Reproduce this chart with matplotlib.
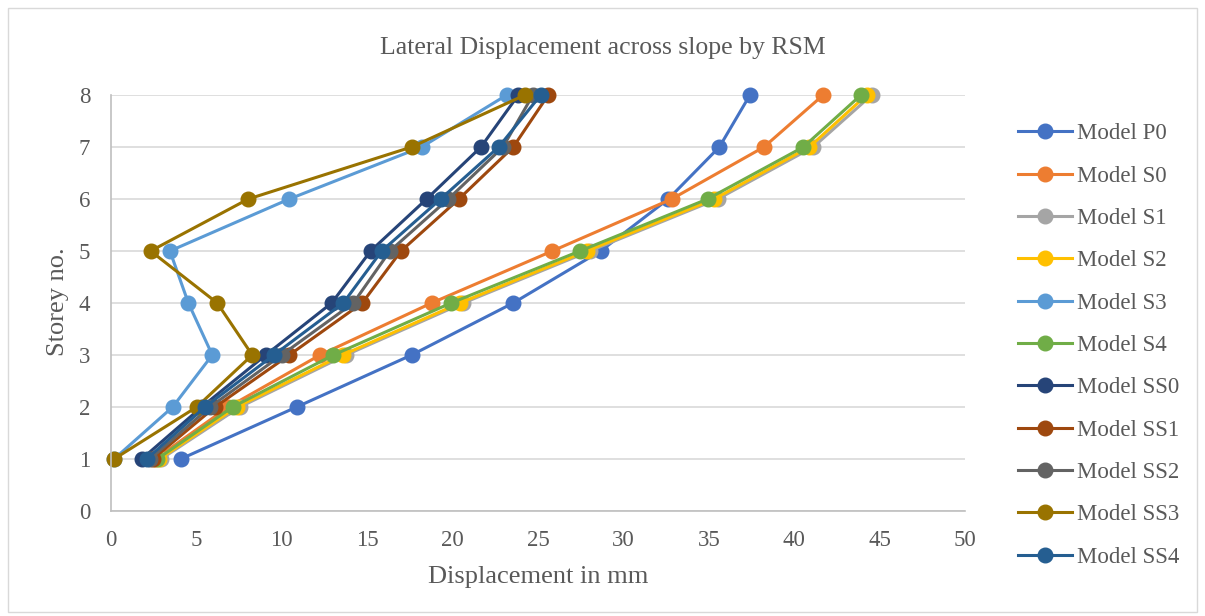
import matplotlib.pyplot as plt
from matplotlib.patches import Rectangle

plt.rcParams['font.family'] = ['Liberation Serif', 'DejaVu Serif']

storey = [1, 2, 3, 4, 5, 6, 7, 8]

p0 = [4.08, 10.87, 17.60, 23.55, 28.67, 32.63, 35.62, 37.41]
s0 = [2.58, 6.87, 12.24, 18.77, 25.84, 32.83, 38.23, 41.70]
s1 = [2.93, 7.55, 13.76, 20.63, 28.04, 35.52, 41.12, 44.54]
s2 = [2.83, 7.36, 13.56, 20.43, 27.85, 35.32, 40.89, 44.24]
s3 = [0.18, 3.61, 5.93, 4.53, 3.45, 10.44, 18.19, 23.17]
s4 = [2.71, 7.12, 13.02, 19.91, 27.46, 34.93, 40.54, 43.91]
ss0 = [1.80, 5.31, 9.06, 12.92, 15.20, 18.48, 21.66, 23.85]
ss1 = [2.44, 6.09, 10.44, 14.71, 16.98, 20.37, 23.55, 25.60]
ss2 = [2.28, 5.80, 9.99, 14.19, 16.33, 19.75, 22.95, 24.70]
ss3 = [0.18, 5.02, 8.27, 6.22, 2.32, 8.04, 17.60, 24.24]
ss4 = [2.09, 5.50, 9.54, 13.60, 15.85, 19.30, 22.70, 25.16]

names = ['Model P0', 'Model S0', 'Model S1', 'Model S2', 'Model S3', 'Model S4',
         'Model SS0', 'Model SS1', 'Model SS2', 'Model SS3', 'Model SS4']
series = [p0, s0, s1, s2, s3, s4, ss0, ss1, ss2, ss3, ss4]
colors = ['#4472C4', '#ED7D31', '#A5A5A5', '#FFC000', '#5B9BD5', '#70AD47',
          '#264478', '#9E480E', '#636363', '#997300', '#255E91']

txt = '#595959'
W, H = 1205, 616

fig = plt.figure(figsize=(W/100, H/100), dpi=100)
ax = fig.add_axes([111/W, 1 - 511/H, (965-111)/W, (511-95)/H])

for name, vals, c in zip(names, series, colors):
    ax.plot(vals, storey, color=c, lw=2.2, marker='o', markersize=10.5,
            label=name, clip_on=False)

ax.set_xlim(0, 50)
ax.set_ylim(0, 8)
ax.set_xticks(range(0, 51, 5))
ax.set_yticks(range(0, 9))
ax.grid(axis='y', color='#D9D9D9', lw=1.2)
ax.set_axisbelow(True)
for side in ['top', 'right']:
    ax.spines[side].set_visible(False)
for side in ['left', 'bottom']:
    ax.spines[side].set_color('#BFBFBF')
    ax.spines[side].set_linewidth(1.2)
ax.tick_params(length=0, labelsize=16.5, colors=txt)
ax.tick_params(axis='x', pad=14)
ax.tick_params(axis='y', pad=15)

# title sits centred over the whole chart, not the plot area
fig.text(603/W, 1 - 47.7/H, 'Lateral Displacement across slope by RSM',
         fontsize=18.5, color=txt, ha='center', va='center')
ax.set_xlabel('Displacement in mm', fontsize=19, color=txt, va='center')
ax.xaxis.set_label_coords(538/W, 1 - 577/H, transform=fig.transFigure)
ax.set_ylabel('Storey no.', fontsize=19, color=txt, va='center')
ax.yaxis.set_label_coords(58/W, 1 - 302/H, transform=fig.transFigure)

leg = ax.legend(loc='upper left', bbox_to_anchor=(1009/W, 1 - 114/H),
                bbox_transform=fig.transFigure, frameon=False, fontsize=16.5,
                labelspacing=0.93, handlelength=2.36, handletextpad=0.22,
                borderaxespad=0)
for t in leg.get_texts():
    t.set_color(txt)

# outer chart border
fig.patches.append(Rectangle((8/W, 4/H), 1189/W, 604/H,
                             transform=fig.transFigure, fill=False,
                             edgecolor='#D9D9D9', lw=1))

fig.savefig('out.png', dpi=100)
